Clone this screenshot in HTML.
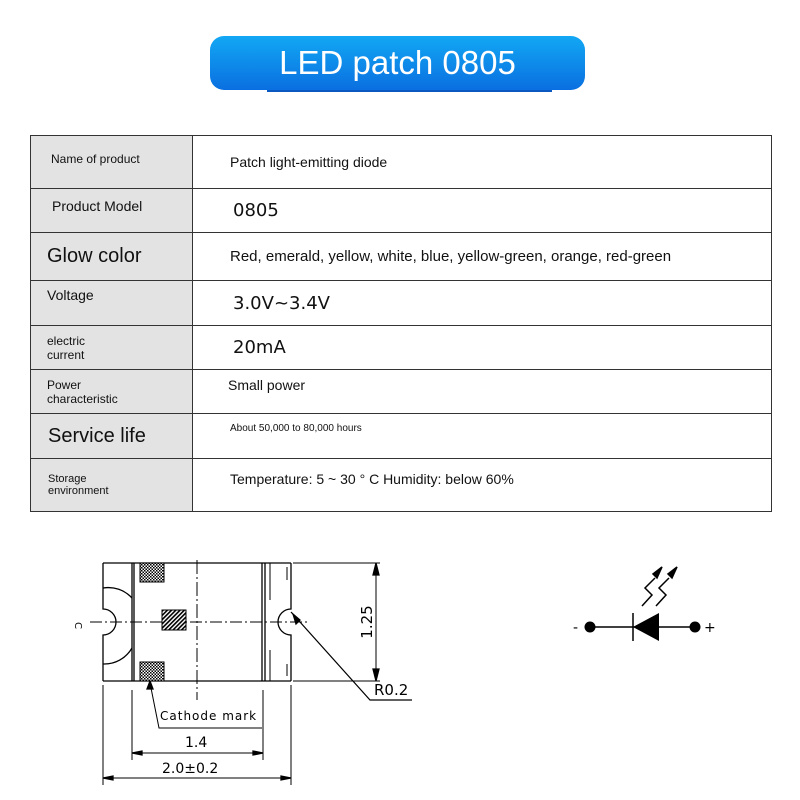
<!DOCTYPE html>
<html><head><style>
body{margin:0;width:800px;height:800px;background:#fff;position:relative;font-family:"Liberation Sans",sans-serif;overflow:hidden}
.hdr{position:absolute;left:210px;top:36px;width:375px;height:54px;border-radius:14px;background:linear-gradient(#12a8f4,#0a6fe0);color:#fff;font-size:33px;text-align:center;line-height:54px}
.sh{position:absolute;left:267px;top:88px;width:285px;height:4px;background:#0a58c0}
table{position:absolute;left:30px;top:135px;width:741px;border-collapse:collapse;table-layout:fixed}
td{border:1px solid #333;padding:0;vertical-align:middle;box-sizing:border-box}
td.l{background:#e3e3e3;color:#111}
td.r{color:#111;padding-left:37px}
</style></head><body>
<div class="sh"></div>
<div class="hdr">LED patch 0805</div>
<table>
<colgroup><col style="width:162px"><col style="width:579px"></colgroup>
<tr style="height:53px"><td class="l" style="font-size:12px;padding-left:20px;vertical-align:top;padding-top:16px">Name of product</td><td class="r" style="font-size:14px">Patch light-emitting diode</td></tr>
<tr style="height:44px"><td class="l" style="font-size:14px;padding-left:21px;vertical-align:top;padding-top:9px">Product Model</td><td class="r" style="font-size:18px;font-family:'DejaVu Sans',sans-serif;padding-left:40px">0805</td></tr>
<tr style="height:48px"><td class="l" style="font-size:20px;padding-left:16px">Glow color</td><td class="r" style="font-size:15px">Red, emerald, yellow, white, blue, yellow-green, orange, red-green</td></tr>
<tr style="height:45px"><td class="l" style="font-size:14px;padding-left:16px;vertical-align:top;padding-top:6px">Voltage</td><td class="r" style="font-size:18px;font-family:'DejaVu Sans',sans-serif;padding-left:40px">3.0V~3.4V</td></tr>
<tr style="height:44px"><td class="l" style="font-size:12px;padding-left:16px">electric<br>current</td><td class="r" style="font-size:18px;font-family:'DejaVu Sans',sans-serif;padding-left:40px">20mA</td></tr>
<tr style="height:44px"><td class="l" style="font-size:12px;padding-left:16px">Power<br>characteristic</td><td class="r" style="font-size:14px;vertical-align:top;padding-top:7px;padding-left:35px">Small power</td></tr>
<tr style="height:45px"><td class="l" style="font-size:20px;padding-left:17px">Service life</td><td class="r" style="font-size:10px;vertical-align:top;padding-top:9px">About 50,000 to 80,000 hours</td></tr>
<tr style="height:53px"><td class="l" style="font-size:11px;padding-left:17px">Storage<br>environment</td><td class="r" style="font-size:14px;vertical-align:top;padding-top:12px">Temperature: 5 ~ 30 ° C Humidity: below 60%</td></tr>
</table>
<svg width="800" height="800" style="position:absolute;left:0;top:0" font-family="DejaVu Sans,sans-serif">
<defs><pattern id="ck" width="3" height="3" patternUnits="userSpaceOnUse"><rect width="3" height="3" fill="#fff"/><rect width="1.5" height="1.5" fill="#000"/><rect x="1.5" y="1.5" width="1.5" height="1.5" fill="#000"/></pattern>
<pattern id="hc" width="3" height="3" patternUnits="userSpaceOnUse" patternTransform="rotate(45)"><rect width="3" height="3" fill="#fff"/><rect width="1.6" height="3" fill="#000"/></pattern></defs>
<g stroke="#000" fill="none" stroke-width="1.3">
<path d="M103 563 H291 M103 681 H291 M103 563 V609 A13 13 0 0 1 103 635 V681 M291 563 V609 A13 13 0 0 0 291 635 V681"/>
<path d="M132 563 V681 M134 563 V681 M262 563 V681 M265 563 V681"/>
<path d="M103 588 A32 32 0 0 1 132 598 M103 664 A32 32 0 0 0 132 648"/>
<path d="M270 563 V600 M270 681 V650 M287 567 V580 M287 664 V676" stroke-width="1"/>
<path d="M90 622 H310" stroke-dasharray="12 3 2 3" stroke-width="1"/>
<path d="M197 560 V700" stroke-dasharray="14 3 2 3" stroke-width="1"/>
<path d="M293 563 H380 M293 681 H380 M376 563 V681" stroke-width="1"/>
<path d="M376 563 l-3 12 h6 z M376 681 l-3 -12 h6 z" fill="#000"/>
<path d="M291 612 L370 700 H412" stroke-width="1.2"/>
<path d="M293 614 l3 10 l4 -4 z" fill="#000"/>
<path d="M103 685 V785 M291 685 V785 M132 690 V760 M263 690 V760" stroke-width="1"/>
<path d="M132 753 H263 M103 778 H291" stroke-width="1"/>
<path d="M132 753 l10 -2 v4 z M263 753 l-10 -2 v4 z M103 778 l10 -2 v4 z M291 778 l-10 -2 v4 z" fill="#000"/>
<path d="M150 683 L159 728 H262" stroke-width="1"/>
<path d="M150 681 l-3 8 h6 z" fill="#000"/>
</g>
<rect x="140" y="563" width="24" height="19" fill="url(#ck)" stroke="#000"/>
<rect x="140" y="662" width="24" height="19" fill="url(#ck)" stroke="#000"/>
<rect x="162" y="610" width="24" height="20" fill="url(#hc)" stroke="#000"/>
<text x="160" y="720" font-size="12" letter-spacing="1">Cathode mark</text>
<text x="185" y="747" font-size="14">1.4</text>
<text x="162" y="773" font-size="14">2.0±0.2</text>
<text x="374" y="695" font-size="15">R0.2</text>
<text transform="translate(372 622) rotate(-90)" font-size="15" text-anchor="middle">1.25</text>
<text x="79" y="626" font-size="10" transform="rotate(90 79 622)">C</text>
<g stroke="#000" stroke-width="1.5" fill="none">
<path d="M590 627 H700 M633 613 V641"/>
<path d="M642 606 L652 595 L645 588 L655 578 M656 606 L666 595 L659 588 L669 578"/>
</g>
<path d="M633 627 L659 613 V641 Z" fill="#000"/>
<path d="M662 567 l-9 7 l4 4 z M677 567 l-9 7 l4 4 z" fill="#000" stroke="#000" stroke-width="1.5"/>
<circle cx="590" cy="627" r="5.5"/><circle cx="695" cy="627" r="5.5"/>
<text x="573" y="632" font-size="14">-</text>
<text x="704" y="632" font-size="14">+</text>
</svg>
</body></html>
